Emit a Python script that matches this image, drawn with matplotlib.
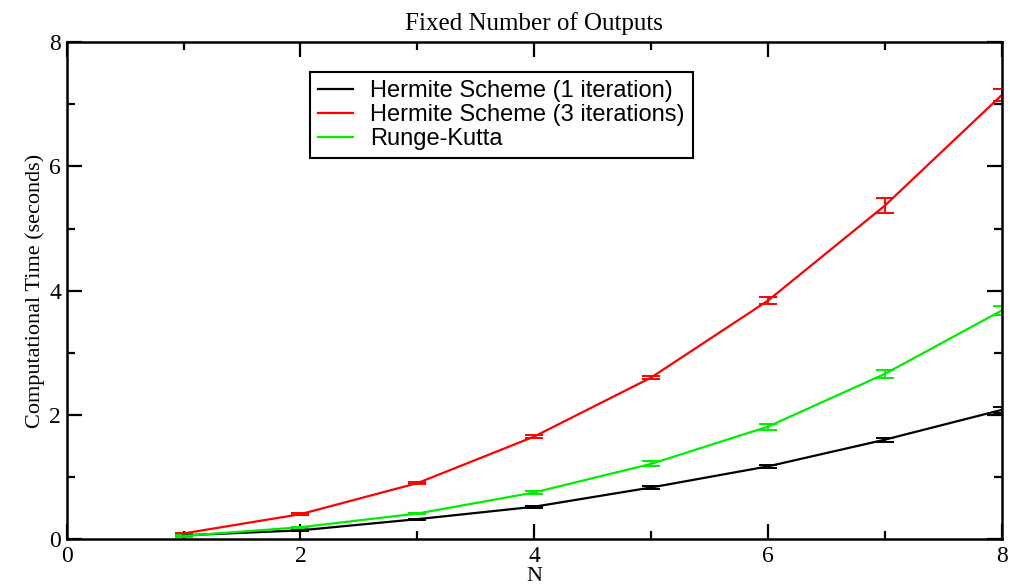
import numpy as np
import matplotlib.pyplot as plt
from matplotlib.lines import Line2D

n = [1, 2, 3, 4, 5, 6, 7, 8]

hermite1 = [0.06, 0.14, 0.32, 0.52, 0.83, 1.17, 1.60, 2.08]
hermite1_err = [0.01, 0.01, 0.01, 0.02, 0.02, 0.02, 0.03, 0.05]

hermite3 = [0.09, 0.40, 0.90, 1.65, 2.60, 3.84, 5.37, 7.15]
hermite3_err = [0.01, 0.02, 0.02, 0.03, 0.03, 0.05, 0.12, 0.10]

rk = [0.05, 0.19, 0.41, 0.75, 1.21, 1.81, 2.66, 3.68]
rk_err = [0.01, 0.01, 0.01, 0.02, 0.04, 0.05, 0.06, 0.07]

labels = ['Hermite Scheme (1 iteration)', 'Hermite Scheme (3 iterations)', 'Runge-Kutta']
colors = ['black', 'red', '#00ee00']

serif = ['Liberation Serif', 'DejaVu Serif']

fig = plt.figure(figsize=(10.10, 5.84), dpi=100)
ax = fig.add_axes([0.066, 0.077, 0.9258, 0.8506])

handles = []
for y, e, lab, c in zip([hermite1, hermite3, rk], [hermite1_err, hermite3_err, rk_err], labels, colors):
    ax.errorbar(n, y, yerr=e, color=c, lw=1.6, elinewidth=1.4, capsize=6.5, capthick=1.4)
    handles.append(Line2D([], [], color=c, lw=1.6, label=lab))

ax.set_xlim(0, 8)
ax.set_ylim(0, 8)
ax.set_xticks([0, 2, 4, 6, 8])
ax.set_yticks([0, 2, 4, 6, 8])
ax.set_xticks([1, 3, 5, 7], minor=True)
ax.set_yticks([1, 3, 5, 7], minor=True)
ax.tick_params(which='both', direction='in', top=True, right=True, width=1.6)
ax.tick_params(which='major', length=11, labelsize=17)
ax.tick_params(axis='x', which='major', pad=5)
ax.tick_params(axis='y', which='major', pad=4)
ax.tick_params(which='minor', length=6)
for lab in ax.get_xticklabels() + ax.get_yticklabels():
    lab.set_family(serif)
for s in ax.spines.values():
    s.set_linewidth(1.8)

ax.set_title('Fixed Number of Outputs', family=serif, fontsize=18, pad=9)
ax.set_xlabel('N', family=serif, fontsize=16, labelpad=0)
ax.set_ylabel('Computational Time (seconds)', family=serif, fontsize=16, labelpad=3)

leg = ax.legend(handles=handles, loc='upper left', bbox_to_anchor=(0.26, 0.94), fancybox=False,
                framealpha=1, edgecolor='black', handlelength=1.5, handletextpad=0.7,
                borderpad=0.35, labelspacing=0.08, borderaxespad=0,
                prop={'family': ['Liberation Sans'], 'size': 17})
leg.get_frame().set_linewidth(1.5)

fig.savefig('out.png', dpi=100)
